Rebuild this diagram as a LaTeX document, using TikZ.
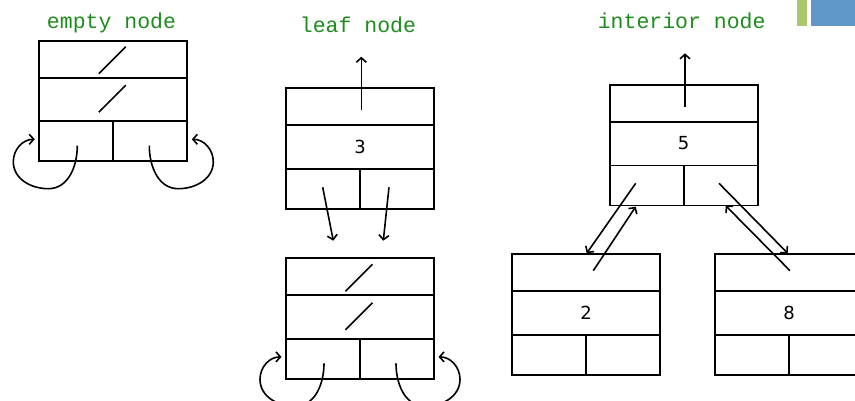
\documentclass[tikz,border=0pt]{standalone}
\usepackage{fontspec}
\newfontfamily\headfont{Liberation Mono}
\newfontfamily\keyfont{DejaVu Sans}
\usetikzlibrary{arrows.meta,calc}

\definecolor{titlegreen}{RGB}{30,140,30}
\definecolor{barGreen}{RGB}{170,198,110}
\definecolor{barBlue}{RGB}{96,150,202}

\tikzset{
  recbox/.style={draw, line width=1.8pt, minimum width=148pt, minimum height=120.5pt,
                 inner sep=0pt, outer sep=0pt, anchor=north west},
  cellline/.style={line width=1.8pt},
  nullmark/.style={line width=1.6pt},
  heading/.style={text=titlegreen, font=\headfont\fontsize{21.5}{24}\selectfont, anchor=base, inner sep=0pt},
  keytext/.style={font=\keyfont\fontsize{18}{20}\selectfont, inner sep=0pt},
  link/.style={line width=1.6pt, -{Straight Barb[length=4.5pt,width=10pt]}},
}

% frame of a record: three rows, the bottom row split in two
\newcommand\recordframe[3]{%
  \node[recbox] (#1) at (#2,#3) {};
  \draw[cellline] ($(#1.north west)+(0,37)$) -- ($(#1.north east)+(0,37)$);
  \draw[cellline] ($(#1.north west)+(0,80.5)$) -- ($(#1.north east)+(0,80.5)$);
  \draw[cellline] ($(#1.north)+(0,80.5)$) -- (#1.south);
}
% record holding a key
\newcommand\keyrecord[4]{%
  \recordframe{#1}{#2}{#3}
  \node[keytext] (#1-key) at ($(#1.north)+(0,58.5)$) {#4};
}
% empty record: null slashes and self loops on both child pointers
\newcommand\emptyrecord[3]{%
  \recordframe{#1}{#2}{#3}
  \draw[nullmark] ($(#1.north west)+(59.5,33)$) -- ($(#1.north west)+(86.5,6)$);
  \draw[nullmark] ($(#1.north west)+(59.5,71.5)$) -- ($(#1.north west)+(86.5,44.5)$);
  \coordinate (#1-lp) at ($(#1.north west)+(38,105)$);
  \coordinate (#1-rp) at ($(#1.north east)+(-38,105)$);
  \draw[link] (#1-lp) to[out=-90,in=0] ++(-29,43) to[out=180,in=-90] ++(-35,-27)
              to[out=90,in=180] ++(21.5,-22.4);
  \draw[link] (#1-rp) to[out=-90,in=180] ++(29,43) to[out=0,in=-90] ++(35,-27)
              to[out=90,in=0] ++(-21.5,-22.4);
}

\begin{document}
\begin{tikzpicture}[x=1pt,y=-1pt]
\clip (0,0) rectangle (855,400);
\fill[white] (0,0) rectangle (855,400);

% corner bars
\fill[barGreen] (797,0) rectangle (807,25.7);
\fill[barBlue] (811,0) rectangle (855,25.7);

% headings
\node[heading] (t-empty) at (111.5,28.3) {empty node};
\node[heading] (t-leaf) at (358,32.3) {leaf node};
\node[heading] (t-int) at (681.7,28.3) {interior node};

% empty node
\emptyrecord{e}{39.3}{40.7}

% leaf node with its two empty children
\keyrecord{leaf}{286}{88.3}{3}
\emptyrecord{lf}{286}{258.3}
\coordinate (leaf-par) at (361.3,56.7);
\coordinate (leaf-pp) at ($(leaf.north west)+(75.3,21.7)$);
\draw[link] (leaf-pp) -- (leaf-par);
\coordinate (leaf-lp) at (322.7,187.3);
\coordinate (leaf-rp) at (389,187.3);
\coordinate (lf-in1) at (333.3,240.7);
\coordinate (lf-in2) at (383.3,240.7);
\draw[link] (leaf-lp) -- (lf-in1);
\draw[link] (leaf-rp) -- (lf-in2);

% interior node and its children
\keyrecord{int}{609.7}{85}{5}
\keyrecord{two}{512}{254.3}{2}
\keyrecord{eight}{715}{254.3}{8}
\coordinate (int-par) at (685,53.3);
\coordinate (int-pp) at ($(int.north west)+(75.3,21.7)$);
\draw[link] (int-pp) -- (int-par);

\coordinate (int-lp) at (635.7,183.3);
\coordinate (two-top) at (586.7,253.3);
\coordinate (two-pp) at (593.3,270.7);
\coordinate (int-lin) at (635.7,206.7);
\draw[link] (int-lp) -- (two-top);
\draw[link] (two-pp) -- (int-lin);

\coordinate (int-rp) at (719,183.3);
\coordinate (eight-top) at (787.7,253.3);
\coordinate (eight-pp) at (790,270.7);
\coordinate (int-rin) at (725.7,205.7);
\draw[link] (int-rp) -- (eight-top);
\draw[link] (eight-pp) -- (int-rin);
\end{tikzpicture}
\end{document}
